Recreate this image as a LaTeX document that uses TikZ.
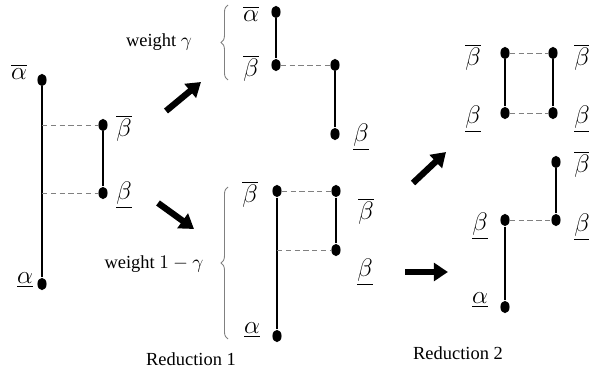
\documentclass[tikz,border=0pt]{standalone}
\usepackage{fontspec}
\setmainfont{Liberation Serif}
\usetikzlibrary{arrows.meta,decorations.pathreplacing,shapes.geometric}

\tikzset{
  dot/.style={ellipse, fill, inner sep=0pt, minimum width=5.2pt, minimum height=7pt},
  seg/.style={line width=1.1pt},
  link/.style={densely dashed, gray, line width=0.45pt},
  bigarrow/.style={line width=3.6pt, -{Triangle[length=8pt,width=10pt]}},
  wbrace/.style={decorate, decoration={brace, amplitude=4pt}, gray, line width=0.5pt},
  lab/.style={font=\fontsize{15}{17}\selectfont},
  txt/.style={font=\fontsize{10.5}{12}\selectfont},
}

\begin{document}
\begin{tikzpicture}[x=0.02cm, y=-0.02cm]
    \useasboundingbox (0,0) rectangle (589,375);

    % Draw starting pair
    \node[dot] (a1) at (42,80) {};
    \node[dot] (a2) at (42,284) {};
    \node[dot] (b1) at (103,125) {};
    \node[dot] (b2) at (103,193) {};
    \coordinate (p1) at (42,125);
    \coordinate (p2) at (42,193);
    \draw[seg] (a1) -- (a2);
    \draw[seg] (b1) -- (b2);
    \draw[link] (p1) -- (b1);
    \draw[link] (p2) -- (b2);
    \node[lab] (la1) at (19,72) {$\overline{\alpha}$};
    \node[lab] (la2) at (25,280) {$\underline{\alpha}$};
    \node[lab] (lb1) at (124,128) {$\overline{\beta}$};
    \node[lab] (lb2) at (124,195) {$\underline{\beta}$};

    % Draw reduction 1, upper case
    \node[dot] (c1) at (276,12) {};
    \node[dot] (c2) at (276,65) {};
    \node[dot] (c3) at (335,65) {};
    \node[dot] (c4) at (335,134) {};
    \draw[seg] (c1) -- (c2);
    \draw[seg] (c3) -- (c4);
    \draw[link] (c2) -- (c3);
    \node[lab] (lc1) at (251,14) {$\overline{\alpha}$};
    \node[lab] (lc2) at (251,68) {$\overline{\beta}$};
    \node[lab] (lc4) at (361,137) {$\underline{\beta}$};
    \coordinate (r1) at (228,80);
    \coordinate (r2) at (228,5);
    \draw[wbrace] (r1) -- (r2);
    \node[txt] (w1) at (159,42) {weight $\gamma$};

    % Draw reduction 1, lower case
    \node[dot] (d1) at (277,191) {};
    \node[dot] (d2) at (277,336) {};
    \node[dot] (e1) at (336,191) {};
    \node[dot] (e2) at (336,250) {};
    \coordinate (q1) at (277,250);
    \draw[seg] (d1) -- (d2);
    \draw[seg] (e1) -- (e2);
    \draw[link] (d1) -- (e1);
    \draw[link] (q1) -- (e2);
    \node[lab] (ld1) at (250,194) {$\overline{\beta}$};
    \node[lab] (ld2) at (252,330) {$\underline{\alpha}$};
    \node[lab] (le1) at (366,211) {$\overline{\beta}$};
    \node[lab] (le2) at (365,272) {$\underline{\beta}$};
    \coordinate (r3) at (228,339);
    \coordinate (r4) at (228,187);
    \draw[wbrace] (r3) -- (r4);
    \node[txt] (w2) at (154,264) {weight $1-\gamma$};
    \node[txt] (red1) at (191,359) {Reduction 1};

    % Draw reduction 2, upper case
    \node[dot] (f1) at (505,53) {};
    \node[dot] (f2) at (505,113) {};
    \node[dot] (g1) at (553,53) {};
    \node[dot] (g2) at (553,113) {};
    \draw[seg] (f1) -- (f2);
    \draw[seg] (g1) -- (g2);
    \draw[link] (f1) -- (g1);
    \draw[link] (f2) -- (g2);
    \node[lab] (lf1) at (473,57) {$\overline{\beta}$};
    \node[lab] (lf2) at (473,119) {$\underline{\beta}$};
    \node[lab] (lg1) at (582,57) {$\overline{\beta}$};
    \node[lab] (lg2) at (582,119) {$\underline{\beta}$};

    % Draw reduction 2, lower case
    \node[dot] (h1) at (505,220) {};
    \node[dot] (h2) at (505,307) {};
    \node[dot] (k1) at (556,162) {};
    \node[dot] (k2) at (556,220) {};
    \draw[seg] (h1) -- (h2);
    \draw[seg] (k1) -- (k2);
    \draw[link] (h1) -- (k2);
    \node[lab] (lh1) at (480,226) {$\underline{\beta}$};
    \node[lab] (lh2) at (480,300) {$\underline{\alpha}$};
    \node[lab] (lk1) at (582,164) {$\overline{\beta}$};
    \node[lab] (lk2) at (582,227) {$\underline{\beta}$};
    \node[txt] (red2) at (458,353) {Reduction 2};

    % Draw the arrows
    \coordinate (t1) at (166,111);
    \coordinate (s1) at (201,82);
    \coordinate (t2) at (158,203);
    \coordinate (s2) at (194,229);
    \coordinate (t3) at (413,183);
    \coordinate (s3) at (446,152);
    \coordinate (t4) at (405,272);
    \coordinate (s4) at (448,272);
    \draw[bigarrow] (t1) -- (s1);
    \draw[bigarrow] (t2) -- (s2);
    \draw[bigarrow] (t3) -- (s3);
    \draw[bigarrow] (t4) -- (s4);
\end{tikzpicture}
\end{document}
